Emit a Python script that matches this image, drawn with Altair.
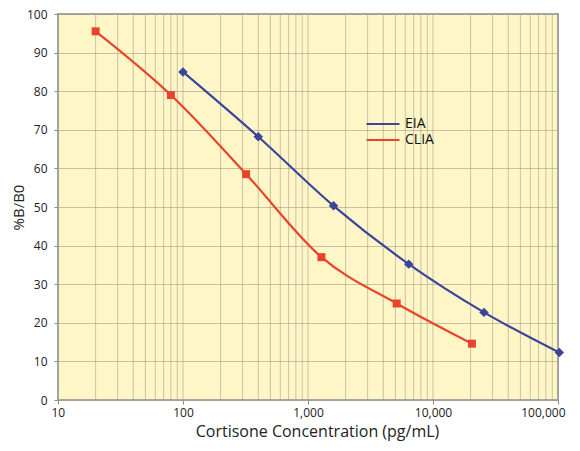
import altair as alt
import pandas as pd

series = ["EIA", "CLIA"]
colors = ["#3c449b", "#e8432d"]

eia_conc = [100, 400, 1600, 6400, 25600, 102400]
eia_pct = [85.0, 68.2, 50.3, 35.2, 22.7, 12.3]
clia_conc = [20, 80, 320, 1280, 5120, 20480]
clia_pct = [95.5, 79.0, 58.5, 37.0, 25.0, 14.6]

x_major = [10, 100, 1000, 10000, 100000]
x_grid = [m * k for m in [10, 100, 1000, 10000] for k in range(1, 10)] + [100000]
y_ticks = [0, 10, 20, 30, 40, 50, 60, 70, 80, 90, 100]

df = pd.concat(
    [
        pd.DataFrame({"series": "EIA", "conc": eia_conc, "pct": eia_pct}),
        pd.DataFrame({"series": "CLIA", "conc": clia_conc, "pct": clia_pct}),
    ],
    ignore_index=True,
)
grid_df = pd.DataFrame({"conc": x_grid})

FONT = "Open Sans"
color_scale = alt.Scale(domain=series, range=colors)
marker_keys = [s + " marker" for s in series]

x = alt.X(
    "conc:Q",
    title="Cortisone Concentration (pg/mL)",
    scale=alt.Scale(type="log", domain=[10, 100000], nice=False),
    axis=alt.Axis(
        values=x_major,
        format=",",
        grid=False,
        labelFlush=True,
        labelFlushOffset=7,
        labelPadding=3,
        titlePadding=5,
        titleX=259,
    ),
)
y = alt.Y(
    "pct:Q",
    title="%B/B0",
    scale=alt.Scale(domain=[0, 100], nice=False),
    axis=alt.Axis(values=y_ticks, labelPadding=7, titlePadding=0, titleFontSize=15),
)

# two legends stacked: the marker one carries the box, the line one sits over it
legend_pos = dict(
    orient="none", legendX=307, legendY=101, padding=2, rowPadding=2, title=None,
    labelFont=FONT, labelFontSize=14,
)

marker_legend = alt.Legend(
    **legend_pos,
    fillColor="white",
    strokeColor="black",
    symbolSize=72,
    symbolOffset=11.5,
    symbolOpacity=1,
    labelOffset=14.5,
    labelOpacity=0,
    zindex=1,
)
line_legend = alt.Legend(
    **legend_pos,
    symbolType="M-3.3,0H3.3",
    symbolSize=100,
    symbolStrokeWidth=2.2,
    symbolOffset=9,
    labelOffset=15,
    labelColor="#111",
    zindex=2,
)

vgrid = alt.Chart(grid_df).mark_rule(color="#a59d86", opacity=0.6, strokeWidth=1).encode(x=x)

lines = alt.Chart(df).mark_line(interpolate="monotone", strokeWidth=2.2).encode(
    x=x,
    y=y,
    color=alt.Color("series:N", scale=color_scale, legend=line_legend),
)

points = (
    alt.Chart(df)
    .transform_calculate(marker="datum.series + ' marker'")
    .mark_point(filled=True, opacity=1)
    .encode(
        x=x,
        y=y,
        fill=alt.Fill(
            "marker:N",
            scale=alt.Scale(domain=marker_keys, range=colors),
            legend=marker_legend,
        ),
        shape=alt.Shape(
            "marker:N",
            scale=alt.Scale(domain=marker_keys, range=["diamond", "square"]),
            legend=marker_legend,
        ),
        size=alt.Size("marker:N", scale=alt.Scale(domain=marker_keys, range=[90, 64]), legend=None),
    )
)

chart = (
    alt.layer(vgrid, lines, points)
    .properties(
        width=500,
        height=386,
        autosize=alt.AutoSizeParams(type="none"),
        padding={"left": 50, "top": 6, "right": 14, "bottom": 43},
        background="white",
    )
    .configure_view(fill="#fff6c8", stroke="#a6a6a6", strokeWidth=2)
    .configure_axis(
        domain=False,
        grid=True,
        gridColor="#a59d86",
        gridOpacity=0.6,
        gridWidth=1,
        tickColor="#8a8a8a",
        tickSize=4,
        labelFont=FONT,
        labelFontSize=12,
        labelColor="#222",
        titleFont=FONT,
        titleFontSize=16,
        titleFontWeight="normal",
        titleColor="#222",
    )
)

chart.save("out.html", embed_options={"renderer": "svg", "actions": False})
